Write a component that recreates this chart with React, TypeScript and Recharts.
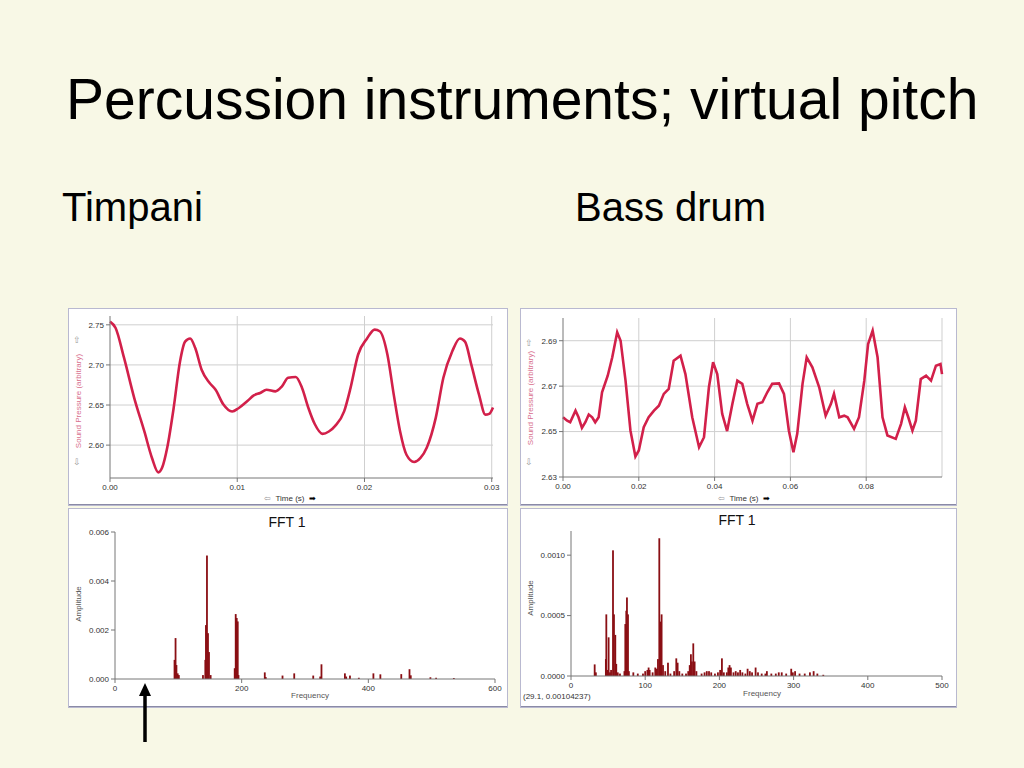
import React from "react";
import {
  LineChart, Line, XAxis, YAxis, CartesianGrid, ComposedChart, Bar
} from "recharts";

// Timpani waveform (time in s, sound pressure arbitrary)
const timpaniTime = [0, 0.00044, 0.0011, 0.0019, 0.0027, 0.0033, 0.0038, 0.0041, 0.0045, 0.005, 0.0055, 0.0059, 0.0063, 0.0067, 0.0072, 0.0078, 0.0083, 0.0089, 0.0096, 0.0101, 0.0108, 0.0113, 0.0118, 0.0123, 0.013, 0.0135, 0.014, 0.0146, 0.0151, 0.0156, 0.0161, 0.0167, 0.0172, 0.0177, 0.0184, 0.0189, 0.0195, 0.0202, 0.0208, 0.0212, 0.0218, 0.0223, 0.0228, 0.0233, 0.0239, 0.0244, 0.0249, 0.0256, 0.0262, 0.0269, 0.0275, 0.0279, 0.0284, 0.029, 0.0295, 0.0298, 0.0301];
const timpaniPressure = [2.754, 2.746, 2.709, 2.659, 2.617, 2.584, 2.566, 2.572, 2.597, 2.646, 2.704, 2.729, 2.733, 2.721, 2.694, 2.678, 2.669, 2.651, 2.642, 2.646, 2.655, 2.662, 2.665, 2.669, 2.667, 2.673, 2.684, 2.685, 2.671, 2.646, 2.626, 2.614, 2.617, 2.624, 2.642, 2.671, 2.713, 2.733, 2.744, 2.742, 2.713, 2.663, 2.617, 2.588, 2.579, 2.584, 2.597, 2.634, 2.684, 2.717, 2.733, 2.729, 2.7, 2.663, 2.638, 2.639, 2.647];

// Bass drum waveform
const bassTime = [0, 0.0011, 0.0019, 0.0033, 0.0041, 0.005, 0.0059, 0.0068, 0.0077, 0.0085, 0.0094, 0.0103, 0.0118, 0.013, 0.0143, 0.0152, 0.0165, 0.0178, 0.0191, 0.02, 0.0213, 0.0226, 0.024, 0.0253, 0.0266, 0.0279, 0.0292, 0.031, 0.0323, 0.0341, 0.0359, 0.0372, 0.0385, 0.0396, 0.0407, 0.042, 0.0433, 0.0447, 0.046, 0.0473, 0.0486, 0.05, 0.0513, 0.0526, 0.0539, 0.0552, 0.057, 0.0583, 0.0596, 0.0608, 0.0618, 0.0632, 0.0643, 0.0658, 0.0676, 0.0693, 0.0707, 0.0715, 0.0729, 0.0742, 0.0751, 0.0768, 0.0781, 0.0795, 0.0805, 0.0817, 0.083, 0.0843, 0.0856, 0.0878, 0.0892, 0.0902, 0.0911, 0.0922, 0.0931, 0.0944, 0.0958, 0.0971, 0.0984, 0.0996, 0.1];
const bassPressure = [2.6563, 2.6548, 2.6541, 2.6592, 2.6563, 2.6516, 2.6541, 2.6575, 2.6563, 2.6541, 2.6563, 2.6673, 2.6746, 2.6827, 2.6937, 2.69, 2.6724, 2.6504, 2.639, 2.6417, 2.6519, 2.6563, 2.6592, 2.6614, 2.6666, 2.6688, 2.6812, 2.6834, 2.6753, 2.6563, 2.6431, 2.6475, 2.6695, 2.6805, 2.6753, 2.6578, 2.6502, 2.6622, 2.6724, 2.671, 2.6622, 2.6548, 2.6622, 2.6629, 2.6673, 2.671, 2.6712, 2.6666, 2.6504, 2.6409, 2.649, 2.671, 2.6827, 2.6783, 2.6695, 2.657, 2.6622, 2.6666, 2.6563, 2.657, 2.6563, 2.6512, 2.6563, 2.6724, 2.6885, 2.6944, 2.6827, 2.6563, 2.6483, 2.6468, 2.6534, 2.6607, 2.6563, 2.6504, 2.6548, 2.6731, 2.6746, 2.6724, 2.679, 2.6797, 2.6753];

// Timpani FFT
const timpaniFreq = [94, 95.6, 97, 99, 100.8, 138.9, 142.6, 143.6, 145.2, 146.8, 148.4, 151, 189, 190.6, 192.2, 193.8, 195, 236.5, 238, 264.5, 283, 313, 324, 326, 363, 365, 371, 385, 408, 419, 452, 465, 467, 498, 507, 535];
const timpaniAmp = [0.00078, 0.00167, 0.00057, 0.00023, 0.00016, 0.00016, 0.00078, 0.0022, 0.00504, 0.00187, 0.0011, 0.00016, 0.00044, 0.00265, 0.00249, 0.00235, 0.00016, 0.00027, 0.00008, 0.00014, 0.00023, 0.00014, 0.0001, 0.0006, 0.00023, 0.0001, 0.00014, 0.00005, 0.00023, 0.00019, 0.0002, 0.0004, 0.00015, 0.00007, 0.00005, 0.00004];

// Bass drum FFT
const bassFreq = [31.9, 33.5, 47, 47.6, 48.8, 50.7, 52.5, 54, 56.6, 57.9, 59.7, 61, 63, 66, 72, 73.2, 74.5, 75.4, 76.8, 78, 84, 90, 97, 100, 103, 104.6, 106, 110, 113.6, 115.5, 117.2, 119, 120.3, 122.1, 124, 127, 130.7, 134, 139, 141.9, 143.7, 146, 150, 155, 158, 160, 161.6, 163, 164.8, 166.6, 169, 176, 180, 183, 186, 189, 194, 198, 201, 203.4, 206, 210, 212, 213.7, 215.5, 219, 222, 225, 228, 231, 235, 238, 241, 244, 248.8, 252, 257, 262, 264, 270, 276, 280, 284, 290, 296.8, 299, 302, 308, 315, 322, 327, 332, 340];
const bassAmp = [0.000096, 0.00003, 0.00014, 0.00051, 0.00005, 0.00032, 0.00003, 0.00005, 0.00104, 0.00051, 0.00034, 0.0001, 0.00003, 0.00002, 0.00004, 0.00043, 0.00054, 0.00065, 0.00051, 0.00004, 0.00003, 0.00002, 0.00002, 0.00004, 0.00005, 0.00007, 0.00005, 0.00003, 0.00007, 0.00006, 0.00014, 0.00114, 0.00045, 0.00051, 0.00009, 0.00004, 0.00011, 0.00002, 0.00004, 0.000146, 0.00011, 0.00004, 0.00002, 0.00002, 0.00004, 0.00009, 0.00018, 0.00012, 0.00027, 0.00012, 0.00004, 0.00002, 0.00003, 0.00004, 0.00004, 0.00003, 0.00002, 0.00003, 0.00005, 0.000146, 0.00003, 0.00003, 0.00007, 0.00009, 0.00007, 0.00003, 0.00004, 0.00003, 0.00005, 0.00003, 0.00002, 0.00006, 0.00004, 0.00003, 0.00007, 0.00003, 0.00002, 0.00002, 0.00004, 0.00002, 0.00002, 0.00003, 0.00003, 0.00002, 0.00006, 0.00003, 0.00004, 0.00002, 0.00002, 0.00003, 0.00004, 0.00002, 0.00001];

const timpaniWave = timpaniTime.map((t, i) => ({ t, p: timpaniPressure[i] }));
const bassWave = bassTime.map((t, i) => ({ t, p: bassPressure[i] }));
const timpaniFft = timpaniFreq.map((f, i) => ({ f, a: timpaniAmp[i] }));
const bassFft = bassFreq.map((f, i) => ({ f, a: bassAmp[i] }));

const FONT = "'Liberation Sans', Arial, sans-serif";
const WAVE = "#d2204a";
const BAR = "#8a0f14";
const tick = { fontSize: 8, fill: "#333", fontFamily: FONT };
const axisLine = { stroke: "#777" };

// thin spectral line, centred on the bar's x, height from the library's scale
const SpikeShape = (props: any) => {
  const { x, y, width, height } = props;
  if (height == null || height <= 0) return null;
  return <rect x={x + width / 2 - 0.9} y={y} width={1.8} height={height} fill={BAR} />;
};

const panel = (left: number, top: number, w: number, h: number): React.CSSProperties => ({
  position: "absolute", left, top, width: w, height: h, background: "#fff",
  boxShadow: "inset 0 0 0 1px #b9b9d0, inset 0 -2px 0 #8a8aa6",
});

const abs = (left: number, top: number, extra: React.CSSProperties = {}): React.CSSProperties => ({
  position: "absolute", left, top, fontFamily: FONT, whiteSpace: "nowrap", ...extra,
});

function VLabel({ x, y, text, color }: { x: number; y: number; text: string; color: string }) {
  return (
    <div style={abs(x, y, { fontSize: 8, color, transform: "translate(-50%,-50%) rotate(-90deg)" })}>{text}</div>
  );
}

export default function App() {
  return (
    <div style={{ position: "absolute", left: 0, top: 0, width: 1024, height: 768, background: "#f8f8e6", overflow: "hidden", fontFamily: FONT }}>
      <div style={abs(66, 66, { fontSize: 57, color: "#000", lineHeight: "normal" })}>Percussion instruments; virtual pitch</div>
      <div style={abs(62, 185, { fontSize: 40, color: "#000" })}>Timpani</div>
      <div style={abs(575, 185, { fontSize: 40, color: "#000" })}>Bass drum</div>

      {/* Timpani waveform */}
      <div style={panel(68, 308, 440, 198)}>
        <LineChart width={440} height={198} data={timpaniWave} margin={{ top: 8, right: 15, left: 0, bottom: 0 }}>
          <CartesianGrid stroke="#cfcfcf" horizontalValues={[2.6, 2.65, 2.7, 2.75]} verticalValues={[0.01, 0.02, 0.03]} />
          <XAxis dataKey="t" type="number" domain={[0, 0.03]} ticks={[0, 0.01, 0.02, 0.03]} tickFormatter={(v) => v.toFixed(2)} tick={tick} axisLine={axisLine} tickLine={axisLine} tickSize={4} height={28} />
          <YAxis type="number" domain={[2.559, 2.761]} ticks={[2.6, 2.65, 2.7, 2.75]} tickFormatter={(v) => v.toFixed(2)} tick={tick} axisLine={axisLine} tickLine={axisLine} tickSize={4} width={42} allowDataOverflow />
          <Line dataKey="p" type="monotone" stroke={WAVE} strokeWidth={2.6} dot={false} isAnimationActive={false} />
        </LineChart>
      </div>
      <div style={abs(77, 340, { fontSize: 9, color: "#999", transform: "translate(-50%,-50%)" })}>⇧</div>
      <div style={abs(77, 462, { fontSize: 9, color: "#999", transform: "translate(-50%,-50%)" })}>⇩</div>
      <VLabel x={78} y={401} text="Sound Pressure (arbitrary)" color="#d8708e" />
      <div style={abs(290, 498, { fontSize: 8, color: "#333", transform: "translate(-50%,-50%)" })}>
        <span style={{ color: "#999" }}>⇦</span>&nbsp;&nbsp;Time (s)&nbsp;&nbsp;<span style={{ color: "#000" }}>➡</span>
      </div>

      {/* Timpani FFT */}
      <div style={panel(68, 508, 440, 200)}>
        <ComposedChart width={440} height={200} data={timpaniFft} margin={{ top: 24, right: 13, left: 0, bottom: 0 }}>
          <XAxis dataKey="f" type="number" domain={[0, 600]} ticks={[0, 200, 400, 600]} tick={tick} axisLine={axisLine} tickLine={axisLine} tickSize={4} height={29} />
          <YAxis type="number" domain={[0, 0.006]} ticks={[0, 0.002, 0.004, 0.006]} tickFormatter={(v) => v.toFixed(3)} tick={tick} axisLine={axisLine} tickLine={axisLine} tickSize={4} width={47} />
          <Bar dataKey="a" fill={BAR} shape={SpikeShape} isAnimationActive={false} />
        </ComposedChart>
      </div>
      <div style={abs(287, 522, { fontSize: 14, color: "#111", transform: "translate(-50%,-50%)" })}>FFT 1</div>
      <VLabel x={78} y={604} text="Amplitude" color="#555" />
      <div style={abs(310, 695, { fontSize: 8, color: "#555", transform: "translate(-50%,-50%)" })}>Frequency</div>

      {/* Bass drum waveform */}
      <div style={panel(520, 308, 437, 198)}>
        <LineChart width={437} height={198} data={bassWave} margin={{ top: 10, right: 15, left: 0, bottom: 0 }}>
          <CartesianGrid stroke="#cfcfcf" horizontalValues={[2.65, 2.67, 2.69]} verticalValues={[0.02, 0.04, 0.06, 0.08, 0.1]} />
          <XAxis dataKey="t" type="number" domain={[0, 0.1]} ticks={[0, 0.02, 0.04, 0.06, 0.08]} tickFormatter={(v) => v.toFixed(2)} tick={tick} axisLine={axisLine} tickLine={axisLine} tickSize={4} height={29} />
          <YAxis type="number" domain={[2.63, 2.7]} ticks={[2.63, 2.65, 2.67, 2.69]} tickFormatter={(v) => v.toFixed(2)} tick={tick} axisLine={axisLine} tickLine={axisLine} tickSize={4} width={43} allowDataOverflow />
          <Line dataKey="p" type="linear" stroke={WAVE} strokeWidth={2.6} dot={false} isAnimationActive={false} />
        </LineChart>
      </div>
      <div style={abs(529, 343, { fontSize: 9, color: "#999", transform: "translate(-50%,-50%)" })}>⇧</div>
      <div style={abs(529, 462, { fontSize: 9, color: "#999", transform: "translate(-50%,-50%)" })}>⇩</div>
      <VLabel x={530} y={398} text="Sound Pressure (arbitrary)" color="#d8708e" />
      <div style={abs(744, 498, { fontSize: 8, color: "#333", transform: "translate(-50%,-50%)" })}>
        <span style={{ color: "#999" }}>⇦</span>&nbsp;&nbsp;Time (s)&nbsp;&nbsp;<span style={{ color: "#000" }}>➡</span>
      </div>

      {/* Bass drum FFT */}
      <div style={panel(520, 508, 437, 200)}>
        <ComposedChart width={437} height={200} data={bassFft} margin={{ top: 23, right: 15, left: 0, bottom: 0 }}>
          <XAxis dataKey="f" type="number" domain={[0, 500]} ticks={[0, 100, 200, 300, 400, 500]} tick={tick} axisLine={axisLine} tickLine={axisLine} tickSize={4} height={32} />
          <YAxis type="number" domain={[0, 0.0012]} ticks={[0, 0.0005, 0.001]} tickFormatter={(v) => v.toFixed(4)} tick={tick} axisLine={axisLine} tickLine={axisLine} tickSize={4} width={51} />
          <Bar dataKey="a" fill={BAR} shape={SpikeShape} isAnimationActive={false} />
        </ComposedChart>
      </div>
      <div style={abs(737, 520, { fontSize: 14, color: "#111", transform: "translate(-50%,-50%)" })}>FFT 1</div>
      <VLabel x={530} y={598} text="Amplitude" color="#555" />
      <div style={abs(762, 693, { fontSize: 8, color: "#555", transform: "translate(-50%,-50%)" })}>Frequency</div>
      <div style={abs(523, 692, { fontSize: 8, color: "#333" })}>(29.1, 0.00104237)</div>

      {/* arrow under timpani FFT */}
      <svg style={{ position: "absolute", left: 133, top: 678, width: 24, height: 70 }}>
        <line x1={12} y1={64} x2={12} y2={14} stroke="#000" strokeWidth={3.5} />
        <polygon points="12,5 6,18 18,18" fill="#000" />
      </svg>
    </div>
  );
}
